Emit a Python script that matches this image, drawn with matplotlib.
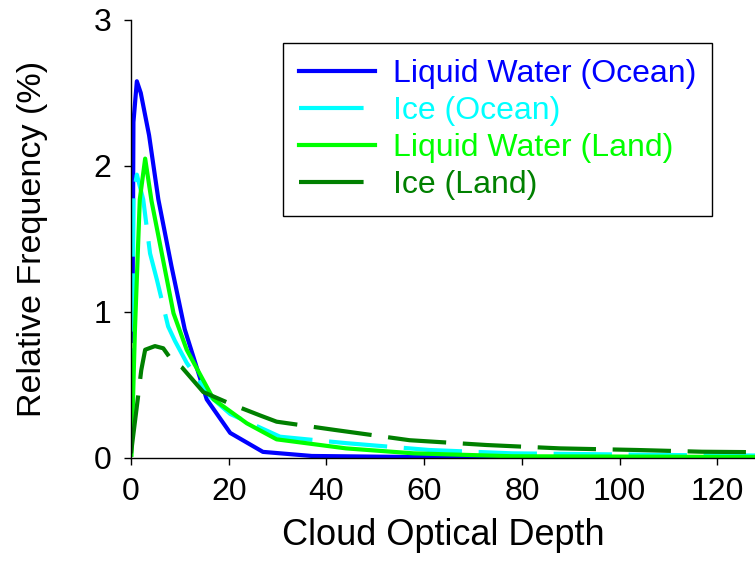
import matplotlib
matplotlib.use("Agg")
import matplotlib.pyplot as plt

plt.rcParams["font.family"] = ["Liberation Sans", "DejaVu Sans"]

# relative frequency (%) against cloud optical depth, one curve per phase / surface
tau_liq_ocean = [0.3, 0.5, 1.2, 2.0, 3.7, 5.6, 8.3, 11.0, 15.5, 20.3, 27.0, 37.0, 60.0, 128.0]
liq_ocean = [0.8, 2.3, 2.58, 2.50, 2.21, 1.77, 1.31, 0.88, 0.40, 0.17, 0.04, 0.012, 0.004, 0.0]

tau_ice_ocean = [0.3, 0.5, 1.2, 2.5, 3.9, 5.3, 7.6, 9.0, 11.4, 16.2, 20.3, 30.5, 44.0, 61.0, 78.0, 112.0, 128.0]
ice_ocean = [0.35, 1.8, 1.94, 1.77, 1.40, 1.22, 0.90, 0.80, 0.65, 0.42, 0.30, 0.144, 0.10, 0.053, 0.03, 0.018, 0.015]

tau_liq_land = [0.1, 0.8, 1.8, 2.9, 4.2, 5.9, 8.7, 11.4, 16.9, 23.7, 29.8, 44.0, 57.8, 78.0, 128.0]
liq_land = [0.02, 0.87, 1.77, 2.05, 1.76, 1.47, 0.99, 0.74, 0.40, 0.236, 0.126, 0.064, 0.03, 0.01, 0.005]

tau_ice_land = [0.0, 1.6, 2.1, 2.9, 4.9, 6.6, 8.3, 10.4, 14.8, 20.3, 26.4, 29.8, 41.8, 57.0, 72.8, 87.8, 103.5, 116.8, 128.0]
ice_land = [0.03, 0.46, 0.60, 0.74, 0.765, 0.75, 0.67, 0.62, 0.45, 0.37, 0.29, 0.247, 0.19, 0.12, 0.087, 0.064, 0.053, 0.041, 0.038]

series = [
    ("Liquid Water (Ocean)", tau_liq_ocean, liq_ocean, "#0000ff", "-"),
    ("Ice (Ocean)", tau_ice_ocean, ice_ocean, "#00ffff", (0, (14, 4))),
    ("Liquid Water (Land)", tau_liq_land, liq_land, "#00ff00", "-"),
    ("Ice (Land)", tau_ice_land, ice_land, "#008000", (0, (14, 4))),
]

fig = plt.figure(figsize=(7.55, 5.63), dpi=100)
ax = fig.add_axes([0.1735, 0.187, 0.8265, 0.7775])

for label, x, y, color, ls in series:
    ax.plot(x, y, color=color, linestyle=ls, linewidth=3, label=label)

ax.set_xlim(0, 127.7)
ax.set_ylim(0, 3)
ax.set_xticks(range(0, 121, 20))
ax.set_yticks([0, 1, 2, 3])
ax.tick_params(direction="out", length=5, width=1, labelsize=23, pad=9)

for side in ("top", "right"):
    ax.spines[side].set_visible(False)
for side in ("left", "bottom"):
    ax.spines[side].set_linewidth(1)

ax.set_xlabel("Cloud Optical Depth", fontsize=26, labelpad=8)
ax.set_ylabel("Relative Frequency (%)", fontsize=24.5, labelpad=33)

leg = ax.legend(
    loc="upper left",
    bbox_to_anchor=(0.2436, 0.9475),
    fontsize=23,
    frameon=True,
    fancybox=False,
    edgecolor="black",
    framealpha=1,
    handlelength=2.38,
    handletextpad=0.55,
    labelspacing=0.22,
    borderpad=0.5,
    borderaxespad=0,
)
leg.get_frame().set_linewidth(1)
for text, line, (_, _, _, color, ls) in zip(leg.get_texts(), leg.get_lines(), series):
    text.set_color(color)
    if ls != "-":
        # single long dash in the legend key
        line.set_linestyle((0, (15.5, 6)))

fig.savefig("out.png", dpi=100)
